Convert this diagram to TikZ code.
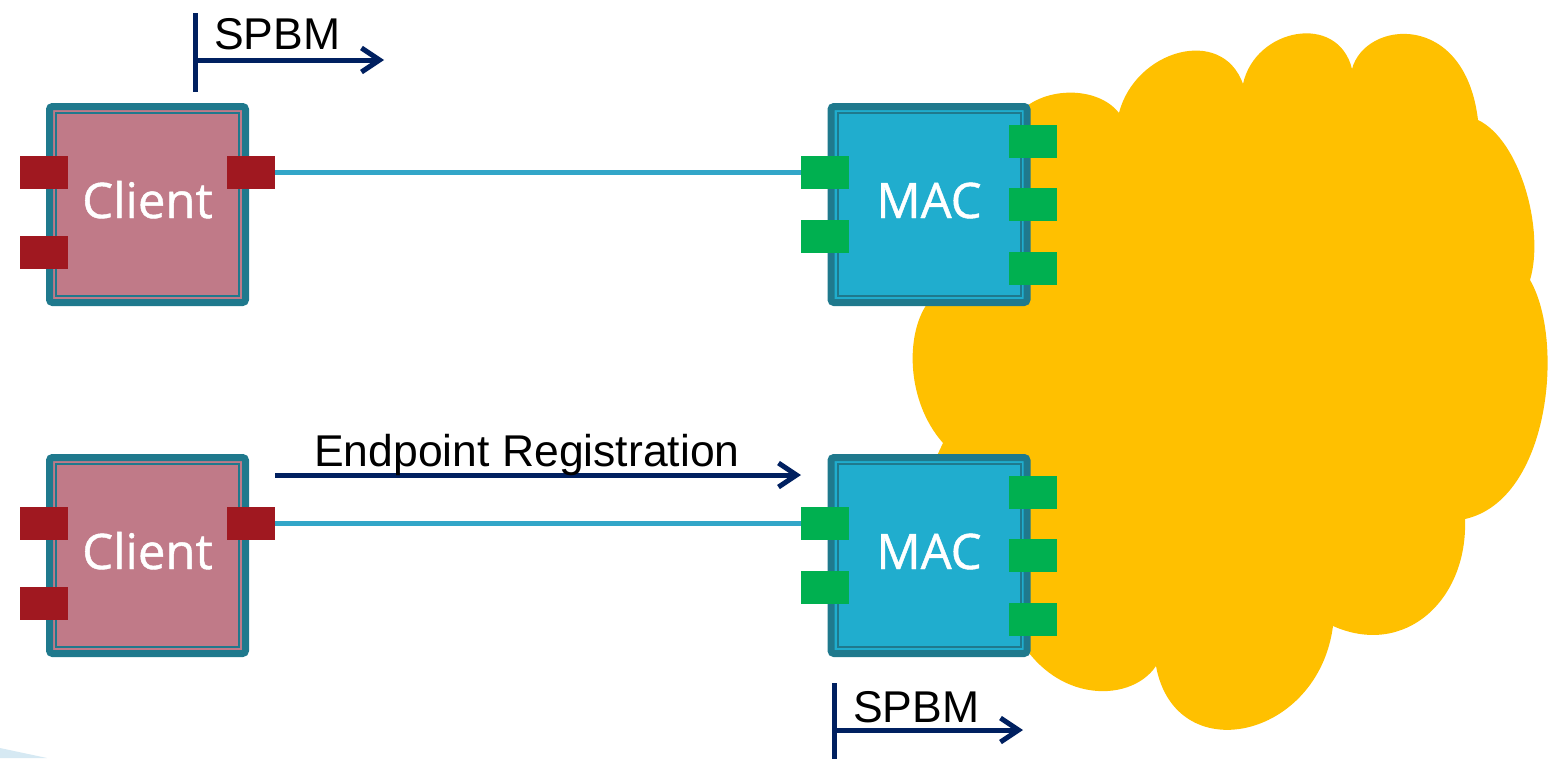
\documentclass[tikz,border=0pt]{standalone}
\usepackage{fontspec}
\setmainfont{Liberation Sans}
\newfontfamily\boxfont{Open Sans}[FakeBold=0.9]
\usetikzlibrary{arrows.meta}
\definecolor{frameteal}{RGB}{31,121,141}
\definecolor{clientfill}{RGB}{192,122,136}
\definecolor{macfill}{RGB}{32,173,206}
\definecolor{portred}{RGB}{160,24,32}
\definecolor{portgreen}{RGB}{0,176,80}
\definecolor{linkblue}{RGB}{50,166,200}
\definecolor{navy}{RGB}{0,32,96}
\definecolor{cloudyellow}{RGB}{255,192,0}
\definecolor{paleblue}{RGB}{214,233,243}
\begin{document}
\begin{tikzpicture}[x=1pt,y=-1pt,
  box/.style={draw=frameteal, line width=7pt, minimum width=196pt, minimum height=196pt,
    inner sep=0pt, outer sep=0pt, rounded corners=3pt, text=white,
    font=\boxfont\fontsize{49pt}{55pt}\selectfont, text height=27pt, text depth=0pt},
  clientbox/.style={box, fill=clientfill},
  macbox/.style={box, fill=macfill},
  innerline/.style={draw=frameteal, line width=2pt},
  port/.style={inner sep=0pt, outer sep=0pt, minimum width=48pt, minimum height=33pt},
  redport/.style={port, fill=portred},
  greenport/.style={port, fill=portgreen},
  link/.style={draw=linkblue, line width=4.5pt},
  navyline/.style={draw=navy, line width=5pt},
  navyarrow/.style={navyline, -{Straight Barb[length=18pt,width=24pt,line width=5pt]}},
  lbl/.style={inner sep=0pt, font=\fontsize{44.5pt}{50pt}\selectfont, text=black}
]
\useasboundingbox (0,0) rectangle (1548,758);

% cloud
\fill[cloudyellow] (1020,112)
  .. controls (1045,86) and (1098,86) .. (1119,113)
  .. controls (1135,50) and (1222,25) .. (1243,84)
  .. controls (1255,28) and (1338,12) .. (1352,69)
  .. controls (1365,20) and (1465,10) .. (1478,120)
  .. controls (1520,140) and (1545,230) .. (1530,280)
  .. controls (1565,340) and (1550,500) .. (1465,519)
  .. controls (1468,600) and (1405,658) .. (1333,626)
  .. controls (1318,740) and (1175,770) .. (1156,666)
  .. controls (1130,705) and (1045,705) .. (1010,620)
  -- (935,460) -- (943,443)
  .. controls (905,400) and (905,330) .. (930,300)
  -- cycle;

% pale corner shape
\fill[paleblue] (0,748) -- (47,758) -- (0,758) -- cycle;

% boxes
\node[clientbox] (cl1) at (147.5,204.5) {Client};
\node[clientbox] (cl2) at (147.5,555.5) {Client};
\node[macbox] (mac1) at (929,204.5) {MAC};
\node[macbox] (mac2) at (929,555.5) {MAC};
\foreach \b in {cl1,cl2,mac1,mac2}{
  \draw[innerline] ([shift={(6.5,6.5)}]\b.north west) rectangle ([shift={(-6.5,-6.5)}]\b.south east);
}

% ports
\node[redport] (cl1pL1) at (43.5,172.5) {};
\node[redport] (cl1pL2) at (43.5,252.5) {};
\node[redport] (cl1pR) at (251,172.5) {};
\node[redport] (cl2pL1) at (43.5,523.5) {};
\node[redport] (cl2pL2) at (43.5,603.5) {};
\node[redport] (cl2pR) at (251,523.5) {};

\node[greenport] (mac1pL1) at (825,172.5) {};
\node[greenport] (mac1pL2) at (825,236) {};
\node[greenport] (mac1pR1) at (1032.5,141) {};
\node[greenport] (mac1pR2) at (1032.5,204.5) {};
\node[greenport] (mac1pR3) at (1032.5,268) {};
\node[greenport] (mac2pL1) at (825,523.5) {};
\node[greenport] (mac2pL2) at (825,587) {};
\node[greenport] (mac2pR1) at (1032.5,492) {};
\node[greenport] (mac2pR2) at (1032.5,555.5) {};
\node[greenport] (mac2pR3) at (1032.5,619) {};

% links
\draw[link] (cl1pR.east) -- (mac1pL1.west);
\draw[link] (cl2pR.east) -- (mac2pL1.west);

% endpoint registration
\coordinate (er1) at (275,475);
\coordinate (er2) at (801,475);
\draw[navyarrow] (er1) -- (er2);
\node[lbl, anchor=base] (ertext) at (527,466) {Endpoint Registration};

% SPBM top
\coordinate (sb1t) at (195,13);
\coordinate (sb1b) at (195,92);
\coordinate (sa1s) at (195,60);
\coordinate (sa1e) at (384,60);
\draw[navyline] (sb1t) -- (sb1b);
\draw[navyarrow] (sa1s) -- (sa1e);
\node[lbl, anchor=base west] (spbm1) at (214,49) {SPBM};

% SPBM bottom
\coordinate (sb2t) at (834,683);
\coordinate (sb2b) at (834,760);
\coordinate (sa2s) at (834,730);
\coordinate (sa2e) at (1023,730);
\draw[navyline] (sb2t) -- (sb2b);
\draw[navyarrow] (sa2s) -- (sa2e);
\node[lbl, anchor=base west] (spbm2) at (853,722) {SPBM};
\end{tikzpicture}
\end{document}
